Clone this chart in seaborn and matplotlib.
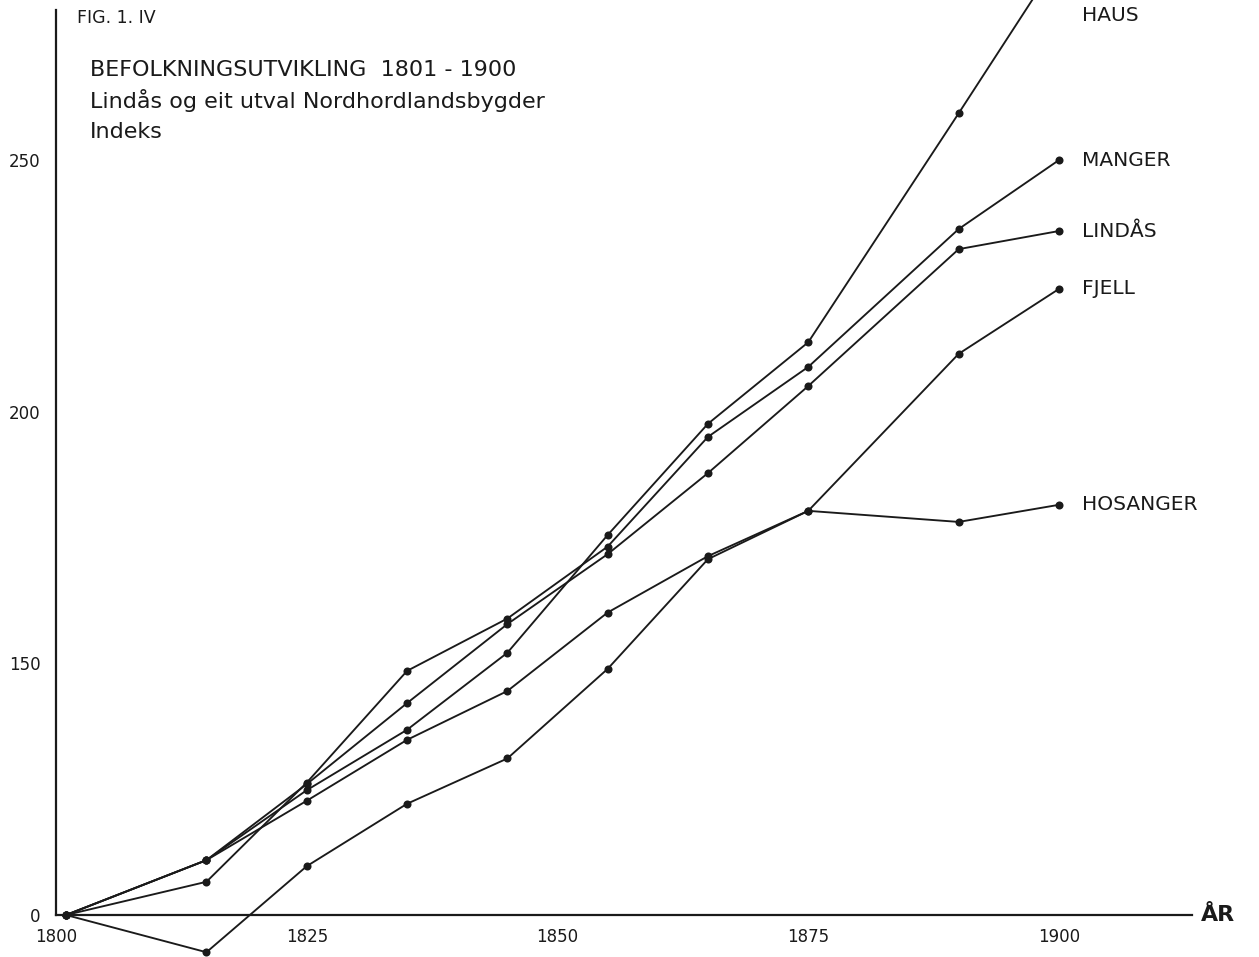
import matplotlib
matplotlib.use("Agg")
import matplotlib.pyplot as plt
import numpy as np
import pandas as pd
import seaborn as sns

# ------------------------------------------------------------
# Data (index, 1801 = 100)
# ------------------------------------------------------------
years = [1801, 1815, 1825, 1835, 1845, 1855, 1865, 1875, 1890, 1900]

haus = [100, 110.9, 124.8, 136.8, 152.1, 175.5, 197.6, 213.8, 259.3, 290.0]
manger = [100, 106.6, 126.3, 148.5, 158.9, 173.2, 195.0, 208.9, 236.3, 250.0]
lindas = [100, 110.9, 126.0, 142.1, 157.8, 171.7, 187.8, 205.1, 232.3, 235.9]
fjell = [100, 110.9, 122.7, 134.8, 144.5, 160.1, 171.3, 180.3, 211.5, 224.4]
hosanger = [100, 92.6, 109.7, 122.1, 131.1, 148.9, 170.7, 180.3, 178.1, 181.5]

bygder = ["HAUS", "MANGER", "LINDÅS", "FJELL", "HOSANGER"]
series = [haus, manger, lindas, fjell, hosanger]

x_ticks = [1800, 1825, 1850, 1875, 1900]
y_ticks = [100, 150, 200, 250]
y_ticklabels = ["0", "150", "200", "250"]

title_lines = [
    "BEFOLKNINGSUTVIKLING  1801 - 1900",
    "Lindås og eit utval Nordhordlandsbygder",
    "Indeks",
]

INK = "#1a1a1a"

df = pd.DataFrame(
    [(b, yr, v) for b, vals in zip(bygder, series) for yr, v in zip(years, vals)],
    columns=["bygd", "year", "index"],
)

# ------------------------------------------------------------
# Plot
# ------------------------------------------------------------
sns.set_style("white")
plt.rcParams["font.family"] = ["DejaVu Sans"]

W, H = 1259, 957
fig = plt.figure(figsize=(W / 100, H / 100), dpi=100)
ax = fig.add_axes([0, 0, 1, 1])

# pixel calibration of the original drawing
x0_px, px_per_year = 56, 10.03
y0_px, px_per_unit = 915, 5.033
ax.set_xlim(1800 - x0_px / px_per_year, 1800 + (W - x0_px) / px_per_year)
ax.set_ylim(100 - (H - y0_px) / px_per_unit, 100 + y0_px / px_per_unit)

sns.lineplot(
    data=df, x="year", y="index", hue="bygd", hue_order=bygder,
    palette={b: INK for b in bygder}, marker="o", markersize=5.8,
    markeredgewidth=0, linewidth=1.35, legend=False, ax=ax,
)

# axes drawn like the hand-made figure
for side in ("top", "right"):
    ax.spines[side].set_visible(False)
ax.spines["bottom"].set_position(("data", 100))
ax.spines["bottom"].set_bounds(1800, 1800 + (1192 - x0_px) / px_per_year)
ax.spines["left"].set_position(("data", 1800))
ax.spines["left"].set_bounds(100, 100 + (y0_px - 10) / px_per_unit)
for side in ("bottom", "left"):
    ax.spines[side].set_linewidth(1.6)
    ax.spines[side].set_color(INK)

ax.set_xticks(x_ticks)
ax.set_xticklabels([str(t) for t in x_ticks])
ax.set_yticks(y_ticks)
ax.set_yticklabels(y_ticklabels)
ax.tick_params(axis="x", direction="out", length=5, width=1.2, pad=4,
               labelsize=12, colors=INK)
ax.tick_params(axis="y", direction="out", length=9, width=1.2, pad=2,
               labelsize=12, colors=INK)
ax.set_xlabel("")
ax.set_ylabel("")
ax.grid(False)

# end labels
y_top = ax.get_ylim()[1]
for b, vals in zip(bygder, series):
    ax.text(years[-1] + 2.3, min(vals[-1], y_top - 3), b, ha="left", va="center",
            fontsize=14.5, color=INK)

ax.text(1800 + (1201 - x0_px) / px_per_year, 100, "ÅR", ha="left", va="center",
        fontsize=16, fontweight="bold", color=INK)

# title block (figure coordinates in pixels)
fig.text(77 / W, 1 - 18 / H, "FIG. 1. IV", ha="left", va="center",
         fontsize=12.5, color=INK)
for i, line in enumerate(title_lines):
    fig.text(90 / W, 1 - (70 + 31 * i) / H, line, ha="left", va="center",
             fontsize=16, color=INK)

fig.savefig("out.png", dpi=100)
